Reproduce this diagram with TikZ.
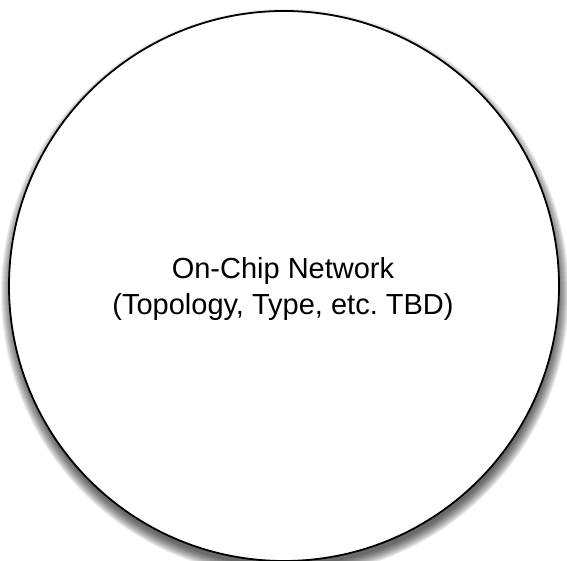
\documentclass[tikz,border=0pt]{standalone}
\usepackage{fontspec}
\setmainfont{Liberation Sans}
\frenchspacing
\tikzset{
  netcircle/.style={circle, draw=black, line width=1.8pt, fill=white, minimum size=550pt, inner sep=0pt},
  shadowring/.style={fill=black, fill opacity=0.07, draw=none},
  nettext/.style={align=center, font=\fontsize{29}{36}\selectfont, inner sep=0pt}
}
\begin{document}
\begin{tikzpicture}[x=1pt,y=1pt]
\useasboundingbox (0,0) rectangle (567,561);
\coordinate (sc) at (285,268);
\foreach \k in {0,...,11}{
  \fill[shadowring] (sc) circle ({273+11-\k});
}
\node[netcircle] (net) at (284,275) {};
\node[nettext] (label) at (283,272) {On-Chip Network\\(Topology, Type, etc.\ TBD)};
\end{tikzpicture}
\end{document}
